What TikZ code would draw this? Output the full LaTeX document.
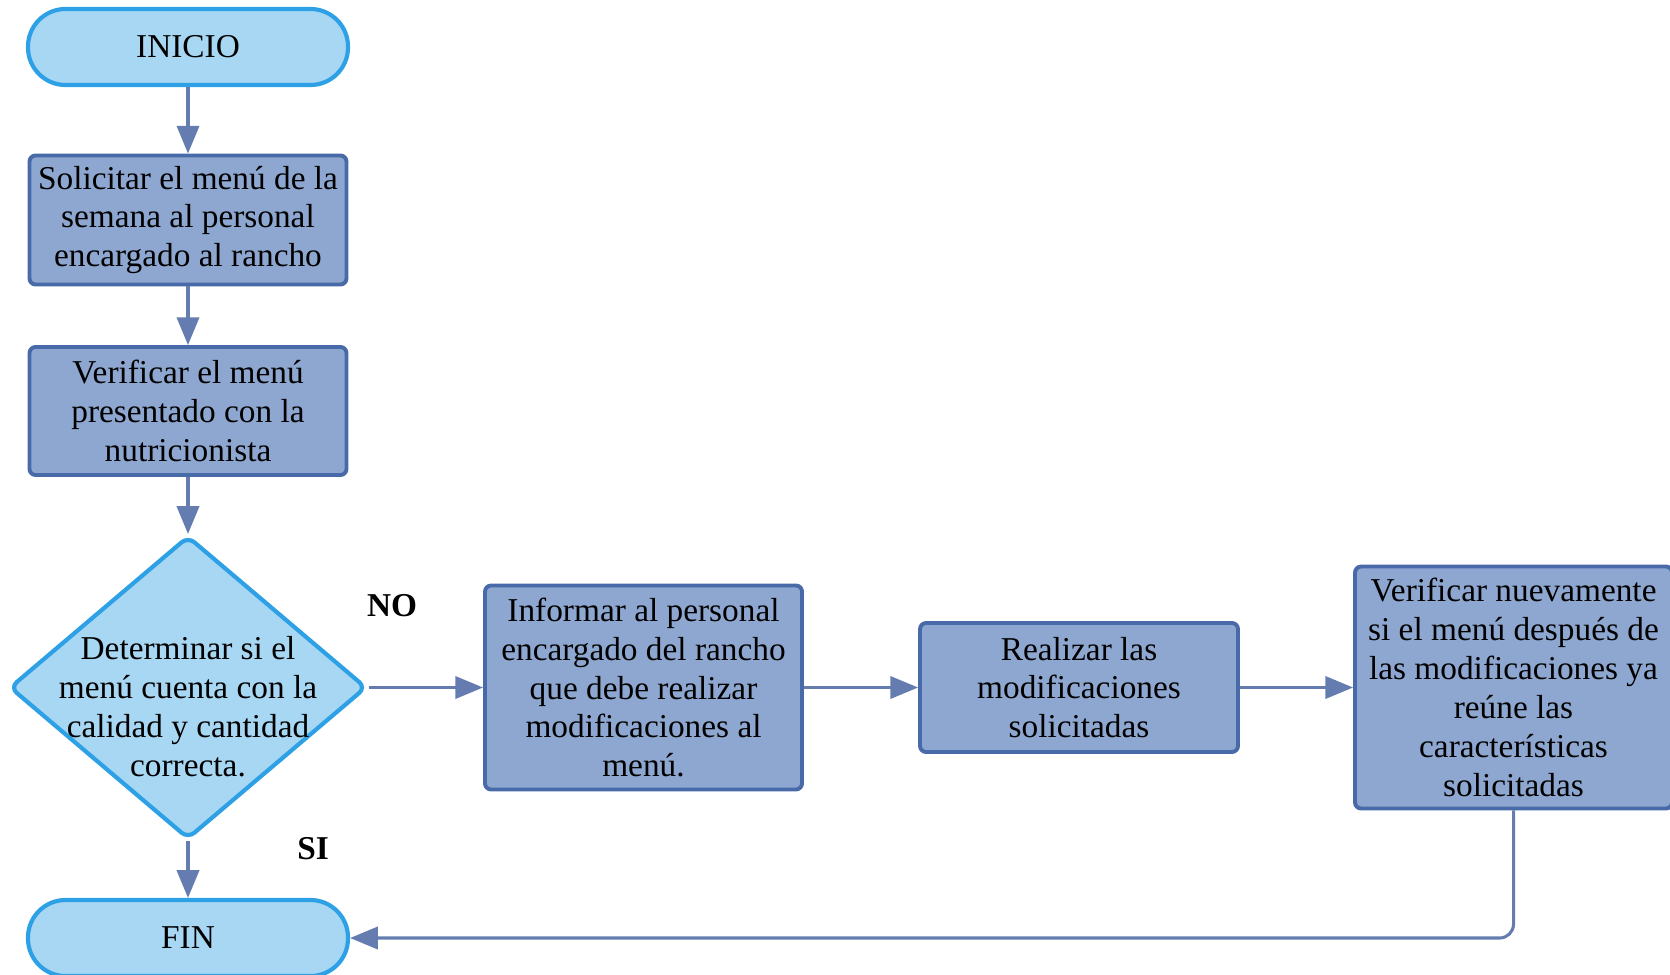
\documentclass[tikz,border=0pt]{standalone}
\usepackage{fontspec}
\setmainfont{Liberation Serif}
\usetikzlibrary{shapes.geometric,arrows.meta}
\definecolor{termfill}{RGB}{168,215,243}
\definecolor{termdraw}{RGB}{45,160,230}
\definecolor{procfill}{RGB}{142,167,208}
\definecolor{procdraw}{RGB}{72,106,168}
\definecolor{flow}{RGB}{100,124,175}
\begin{document}
\begin{tikzpicture}[x=0.36pt,y=-0.36pt,
  font=\fontsize{12pt}{14pt}\selectfont,
  terminal/.style={rectangle, rounded corners=13.5pt, fill=termfill, draw=termdraw,
    line width=1.5pt, minimum width=320*0.36pt, minimum height=76*0.36pt, inner sep=0pt},
  process/.style={rectangle, rounded corners=2.2pt, fill=procfill, draw=procdraw,
    line width=1.4pt, minimum width=317*0.36pt, align=center, inner sep=0pt},
  decision/.style={diamond, rounded corners=3pt, fill=termfill, draw=termdraw,
    line width=1.5pt, minimum width=357*0.36pt, minimum height=303*0.36pt, inner sep=0pt},
  flowarrow/.style={draw=flow, line width=1.1pt, -{Triangle[length=10pt,width=8pt]}},
  answer/.style={font=\fontsize{12pt}{14pt}\selectfont\bfseries}
]
\useasboundingbox (0,0) rectangle (1670,974);

% main column
\node[terminal] (start) at (188,47) {INICIO};
\node[process, minimum height=129*0.36pt] (s1) at (188,220)
  {Solicitar el menú de la\\semana al personal\\encargado al rancho};
\node[process, minimum height=128*0.36pt] (s2) at (188,411)
  {Verificar el menú\\presentado con la\\nutricionista};
\node[decision] (dec) at (188,687.5) {};
\node[align=center] (dtext) at ([yshift=-6.8pt]dec.center)
  {Determinar si el\\menú cuenta con la\\calidad y cantidad\\correcta.};
\node[terminal] (fin) at (188,938) {FIN};

% correction branch
\node[process, minimum height=204*0.36pt] (inf) at (643.5,687.5)
  {Informar al personal\\encargado del rancho\\que debe realizar\\modificaciones al\\menú.};
\node[process, minimum height=129*0.36pt, minimum width=318*0.36pt] (real) at (1079,687.5)
  {Realizar las\\modificaciones\\solicitadas};
\node[process, minimum height=242*0.36pt] (ver) at (1513.5,687.5)
  {Verificar nuevamente\\si el menú después de\\las modificaciones ya\\reúne las\\características\\solicitadas};

% answer labels
\node[answer] (no) at (392,606) {NO};
\node[answer] (si) at (313,849) {SI};

% connectors
\draw[flowarrow] (start) -- (s1);
\draw[flowarrow] (s1) -- (s2);
\draw[flowarrow] (s2) -- (dec);
\draw[flowarrow] (dec) -- (fin);
\draw[flowarrow] (dec.east) -- (inf.west);
\draw[flowarrow] (inf) -- (real);
\draw[flowarrow] (real) -- (ver);
\draw[flowarrow, rounded corners=5pt] (ver.south) |- (fin.east);
\end{tikzpicture}
\end{document}
